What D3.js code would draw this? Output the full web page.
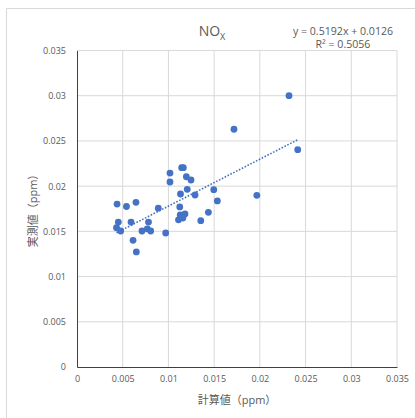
<!DOCTYPE html>
<html>
<head>
<meta charset="utf-8">
<script src="https://cdn.jsdelivr.net/npm/d3@7"></script>
<style>
html,body{margin:0;padding:0;background:#fff;}
svg{display:block;}
text{font-family:"Open Sans","Noto Sans CJK JP",sans-serif;fill:#595959;}
</style>
</head>
<body>
<svg id="chart" width="415" height="418"></svg>
<script>
const calcValues = [0.00438,0.00541,0.00645,0.00889,0.00452,0.00591,0.00782,0.00432,0.00478,0.00711,0.00769,0.00806,0.00970,0.00613,0.00649,
  0.01145,0.01163,0.01017,0.01017,0.01196,0.01247,0.01132,0.01206,0.01291,0.01496,0.01535,0.01967,0.01124,
  0.01181,0.01129,0.01110,0.01158,0.01437,0.01354,0.01717,0.02319,0.02414];
const measValues = [0.01802,0.01775,0.01821,0.01756,0.01603,0.01603,0.01603,0.01540,0.01504,0.01504,0.01528,0.01504,0.01482,0.01401,0.01272,
  0.02204,0.02204,0.02145,0.02046,0.02104,0.02068,0.01913,0.01965,0.01902,0.01961,0.01836,0.01899,0.01770,
  0.01692,0.01682,0.01628,0.01647,0.01711,0.01618,0.02629,0.03000,0.02403];
const xTicks = [0,0.005,0.01,0.015,0.02,0.025,0.03,0.035];
const yTicks = [0,0.005,0.01,0.015,0.02,0.025,0.03,0.035];
const trendSlope = 0.5192;
const trendIntercept = 0.0126;
const titleMain = "NO";
const titleSub = "X";
const eqLabel = "y = 0.5192x + 0.0126";
const r2Label = "R² = 0.5056";
const xTitle = "計算値（ppm）";
const yTitle = "実測値（ppm）";

(function(){
const svg = d3.select("#chart");
const pLeft = 77, pRight = 397, pTop = 50.5, pBottom = 367;
const x = d3.scaleLinear().domain([0,0.035]).range([pLeft,pRight]);
const y = d3.scaleLinear().domain([0,0.035]).range([pBottom,pTop]);

// chart frame
svg.append("path").attr("d","M6.5,430V8.5H430").attr("fill","none").attr("stroke","#d9d9d9").attr("stroke-width",1);

// gridlines
svg.append("g").selectAll("line").data(xTicks.slice(1)).join("line")
  .attr("x1",d=>x(d)).attr("x2",d=>x(d)).attr("y1",pTop).attr("y2",pBottom)
  .attr("stroke","#d9d9d9").attr("stroke-width",1);
svg.append("g").selectAll("line").data(yTicks.slice(1)).join("line")
  .attr("x1",pLeft).attr("x2",pRight).attr("y1",d=>y(d)).attr("y2",d=>y(d))
  .attr("stroke","#d9d9d9").attr("stroke-width",1);

// axes
const fmt = d=>String(+d.toFixed(3));
const xAxis = svg.append("g").attr("transform",`translate(0,${pBottom})`)
  .call(d3.axisBottom(x).tickValues(xTicks).tickFormat(fmt).tickSize(0).tickPadding(9));
xAxis.select(".domain").attr("stroke","#404040");
xAxis.selectAll("text").style("font-size","9px").attr("fill","#595959");
const yAxis = svg.append("g").attr("transform",`translate(${pLeft},0)`)
  .call(d3.axisLeft(y).tickValues(yTicks).tickFormat(fmt).tickSize(0).tickPadding(11));
yAxis.select(".domain").attr("stroke","#404040");
yAxis.selectAll("text").style("font-size","9px").attr("fill","#595959");

// trendline
const xmin = d3.min(calcValues), xmax = d3.max(calcValues);
svg.append("line")
  .attr("x1",x(xmin)).attr("y1",y(trendSlope*xmin+trendIntercept))
  .attr("x2",x(xmax)).attr("y2",y(trendSlope*xmax+trendIntercept))
  .attr("stroke","#4472C4").attr("stroke-width",1.6).attr("stroke-dasharray","1.6,1.6");

// points
const pts = calcValues.map((v,i)=>({cx:v, cy:measValues[i]}));
svg.append("g").selectAll("circle").data(pts).join("circle")
  .attr("cx",d=>x(d.cx)).attr("cy",d=>y(d.cy)).attr("r",3.4)
  .attr("fill","#4472C4");

// title
const t = svg.append("text").attr("x",212).attr("y",36).attr("text-anchor","middle").style("font-size","14px");
t.append("tspan").text(titleMain);
t.append("tspan").attr("dy",4).style("font-size","9px").text(titleSub);

// equation
svg.append("text").attr("x",343).attr("y",35).attr("text-anchor","middle").style("font-size","10.6px").text(eqLabel);
svg.append("text").attr("x",343).attr("y",48).attr("text-anchor","middle").style("font-size","10.6px").text(r2Label);

// axis titles
svg.append("text").attr("x",237).attr("y",404).attr("text-anchor","middle").style("font-size","11px").attr("fill","#6b6b6b").text(xTitle);
svg.append("text").attr("transform","translate(37,208) rotate(-90)").attr("text-anchor","middle").style("font-size","11px").attr("fill","#6b6b6b").text(yTitle);
})();
</script>
</body>
</html>
